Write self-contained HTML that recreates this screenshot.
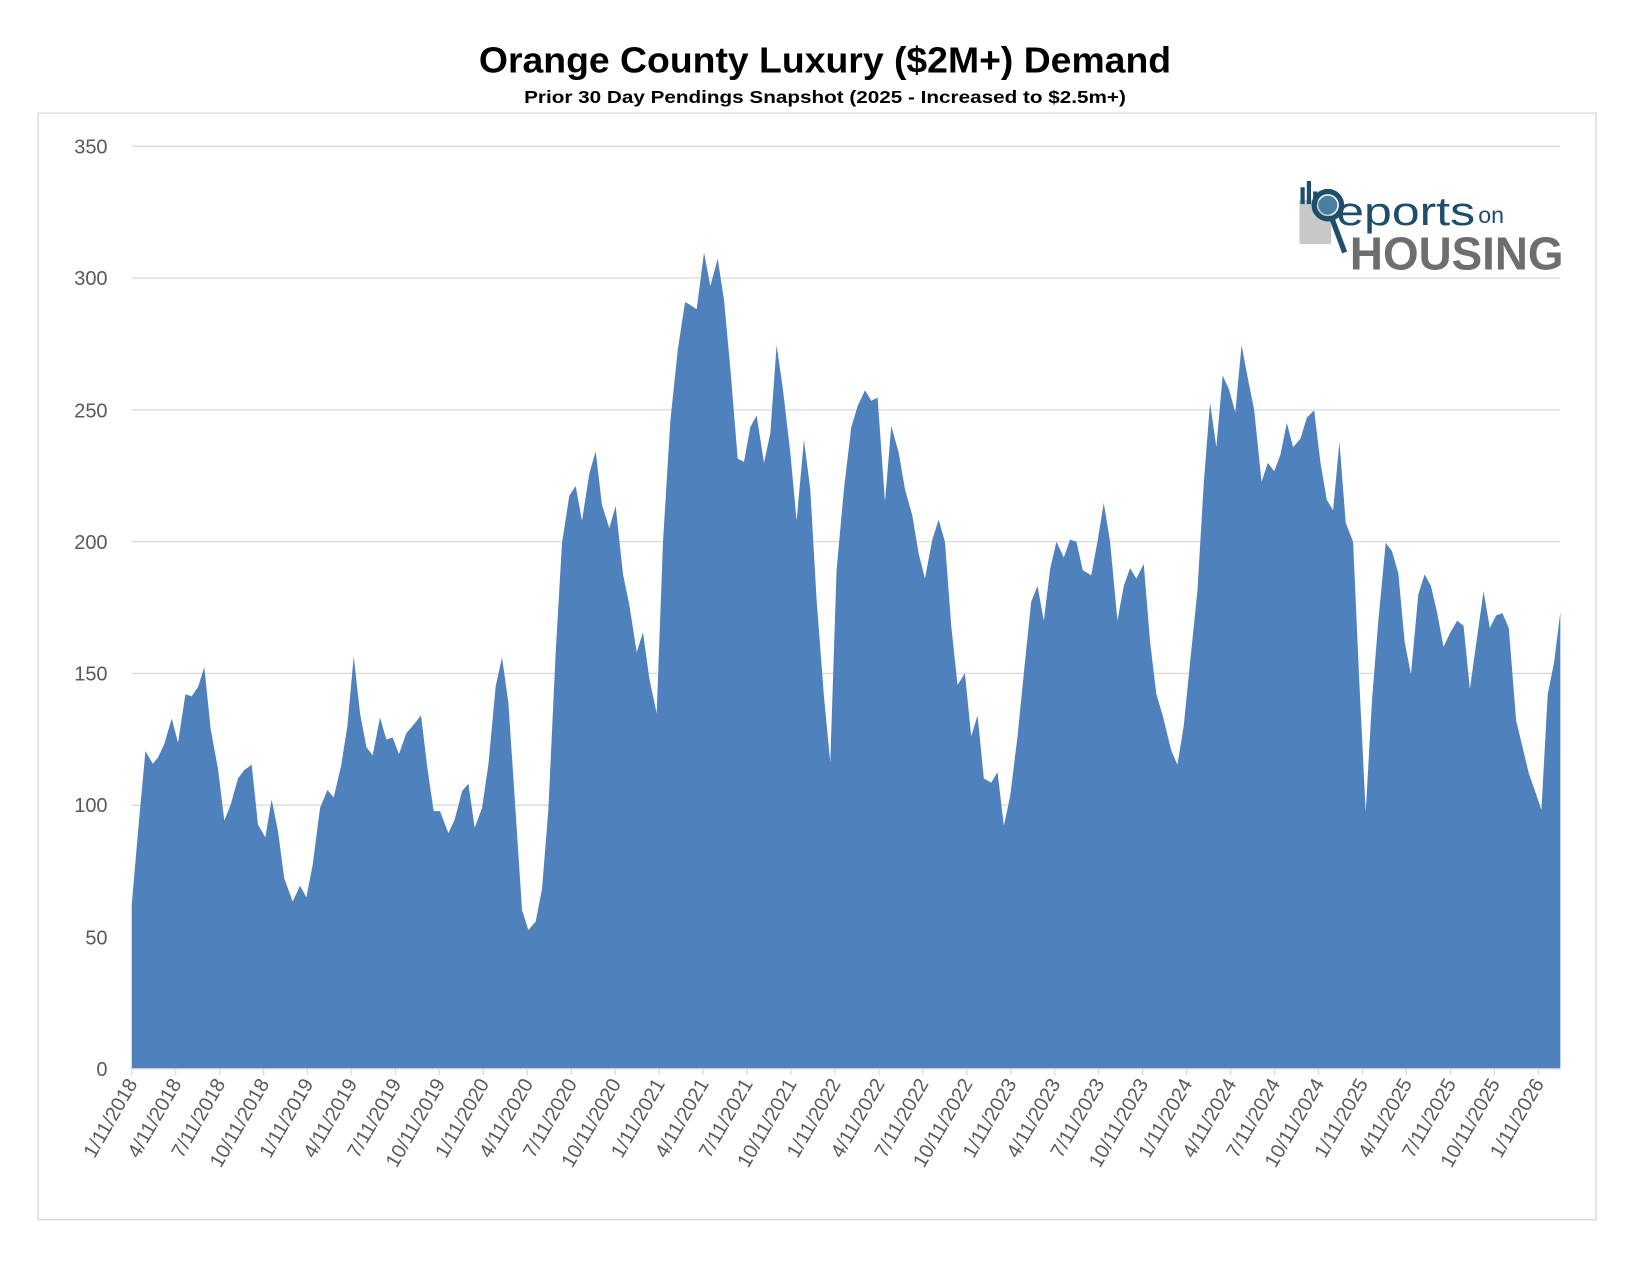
<!DOCTYPE html>
<html><head><meta charset="utf-8"><style>html,body{margin:0;padding:0;background:#fff}svg{display:block}</style></head>
<body>
<svg width="1650" height="1275" viewBox="0 0 1568 1212" xmlns="http://www.w3.org/2000/svg" font-family="Liberation Sans, sans-serif">
<rect x="0" y="0" width="1568" height="1212" fill="#fff"/>
<text x="784" y="69" text-anchor="middle" font-size="34" font-weight="bold" fill="#000" textLength="658" lengthAdjust="spacingAndGlyphs">Orange County Luxury ($2M+) Demand</text>
<text x="784" y="98" text-anchor="middle" font-size="17" font-weight="bold" fill="#000" textLength="572" lengthAdjust="spacingAndGlyphs">Prior 30 Day Pendings Snapshot (2025 - Increased to $2.5m+)</text>
<rect x="36" y="107.5" width="1481" height="1052" fill="none" stroke="#d9d9d9" stroke-width="1.3"/>
<g stroke="#d9d9d9" stroke-width="1.2">
<line x1="125" x2="1483" y1="139" y2="139"/><line x1="125" x2="1483" y1="264.3" y2="264.3"/><line x1="125" x2="1483" y1="389.6" y2="389.6"/><line x1="125" x2="1483" y1="514.9" y2="514.9"/><line x1="125" x2="1483" y1="640.1" y2="640.1"/><line x1="125" x2="1483" y1="765.4" y2="765.4"/><line x1="125" x2="1483" y1="890.7" y2="890.7"/>
</g>
<g font-size="19" fill="#595959" text-anchor="end">
<text x="102" y="146">350</text><text x="102" y="271">300</text><text x="102" y="397">250</text><text x="102" y="522">200</text><text x="102" y="647">150</text><text x="102" y="772">100</text><text x="102" y="898">50</text><text x="102" y="1023">0</text>
</g>
<polygon fill="#4f81bd" points="125,1016 125,860 131,790 138,714 145,726 150,720 156,707 163,683 169,706 176,660 182,662 188,653 194,634 200,693 207,731 213,780 219,765 226,740 232,732 239,727 245,784 252,796 258,760 264,790 270,835 278,857 285,842 291,853 297,822 304,768 311,751 317,758 324,728 330,690 336,624 342,678 348,710 354,718 361,682 367,703 373,701 379,717 386,697 392,690 400,680 406,730 412,771 418,771 426,792 432,779 439,752 445,745 451,787 458,768 464,727 471,652 477,625 483,668 489,758 496,865 502,884 509,876 515,845 521,770 528,620 534,516 541,471 547,462 553,495 560,450 566,429 572,480 579,502 585,481 592,546 598,575 605,620 611,601 617,645 624,678 630,515 637,400 644,333 651,287 656,290 662,294 669,240 675,272 682,246 688,285 694,350 701,436 707,439 713,406 719,395 726,440 732,412 738,328 744,370 751,430 757,495 764,418 770,465 776,570 783,662 789,725 795,542 802,465 809,406 815,386 822,371 828,381 834,378 841,477 847,405 854,430 860,465 867,490 873,526 879,550 886,513 892,494 898,515 904,595 910,651 917,640 923,700 929,680 935,740 942,744 948,734 954,785 960,757 967,700 973,640 980,572 986,557 992,590 998,541 1004,515 1011,530 1017,513 1023,515 1029,542 1037,547 1043,515 1049,478 1055,515 1062,590 1068,557 1074,540 1080,550 1087,536 1093,610 1099,660 1105,680 1113,713 1119,727 1125,690 1131,630 1138,562 1144,460 1150,383 1156,425 1162,357 1168,370 1174,392 1180,328 1186,360 1192,390 1199,458 1205,440 1211,448 1217,432 1223,402 1229,425 1236,417 1242,397 1249,390 1255,440 1261,475 1267,485 1273,420 1279,497 1286,515 1292,650 1298,772 1304,665 1310,590 1317,516 1323,524 1329,545 1335,610 1341,641 1348,565 1354,546 1360,557 1366,583 1372,615 1378,602 1385,590 1391,595 1397,655 1403,612 1410,562 1416,597 1422,585 1428,583 1434,597 1441,685 1447,710 1453,735 1460,755 1465,770 1471,660 1477,630 1483,582 1483,1016"/>
<line x1="125" x2="1483" y1="1016" y2="1016" stroke="#d9d9d9" stroke-width="1.2"/>
<g id="ticks" stroke="#d9d9d9" stroke-width="1.2"></g>
<g id="xl" font-size="19" fill="#595959"></g>
<g>
<rect x="1235" y="190" width="30" height="42" fill="#c8c8c8"/>
<rect x="1236" y="178" width="4" height="16" fill="#1d4e6b"/>
<rect x="1242" y="172" width="4" height="22" fill="#1d4e6b"/>
<rect x="1248" y="182" width="4" height="12" fill="#1d4e6b"/>
<circle cx="1262" cy="195" r="13" fill="none" stroke="#1d4e6b" stroke-width="5"/>
<circle cx="1262" cy="195" r="9" fill="#4a7fa0"/>
<line x1="1266" y1="208" x2="1278" y2="240" stroke="#1d4e6b" stroke-width="5"/>
<text x="1270" y="214" font-size="38" fill="#1d4e6b" textLength="132" lengthAdjust="spacingAndGlyphs">eports</text>
<text x="1405" y="212" font-size="22" fill="#1d4e6b">on</text>
<text x="1283" y="256" font-size="44" font-weight="bold" fill="#6d6e71" textLength="203" lengthAdjust="spacingAndGlyphs">HOUSING</text>
</g>
</svg>
<script>
var labs=[];var ms=["1","4","7","10"];
for(var y=2018;y<=2026;y++)for(var q=0;q<4;q++){if(y==2026&&q>0)break;labs.push(ms[q]+"/11/"+y);}
var t=document.getElementById("ticks"),xl=document.getElementById("xl"),ns="http://www.w3.org/2000/svg";
labs.forEach(function(s,i){var x=125+i*1337/32;
var l=document.createElementNS(ns,"line");l.setAttribute("x1",x);l.setAttribute("x2",x);l.setAttribute("y1",1016);l.setAttribute("y2",1022);t.appendChild(l);
var tx=document.createElementNS(ns,"text");tx.setAttribute("text-anchor","end");tx.setAttribute("transform","translate("+(x+6)+",1030) rotate(-60)");tx.textContent=s;xl.appendChild(tx);});
</script>
</body></html>
